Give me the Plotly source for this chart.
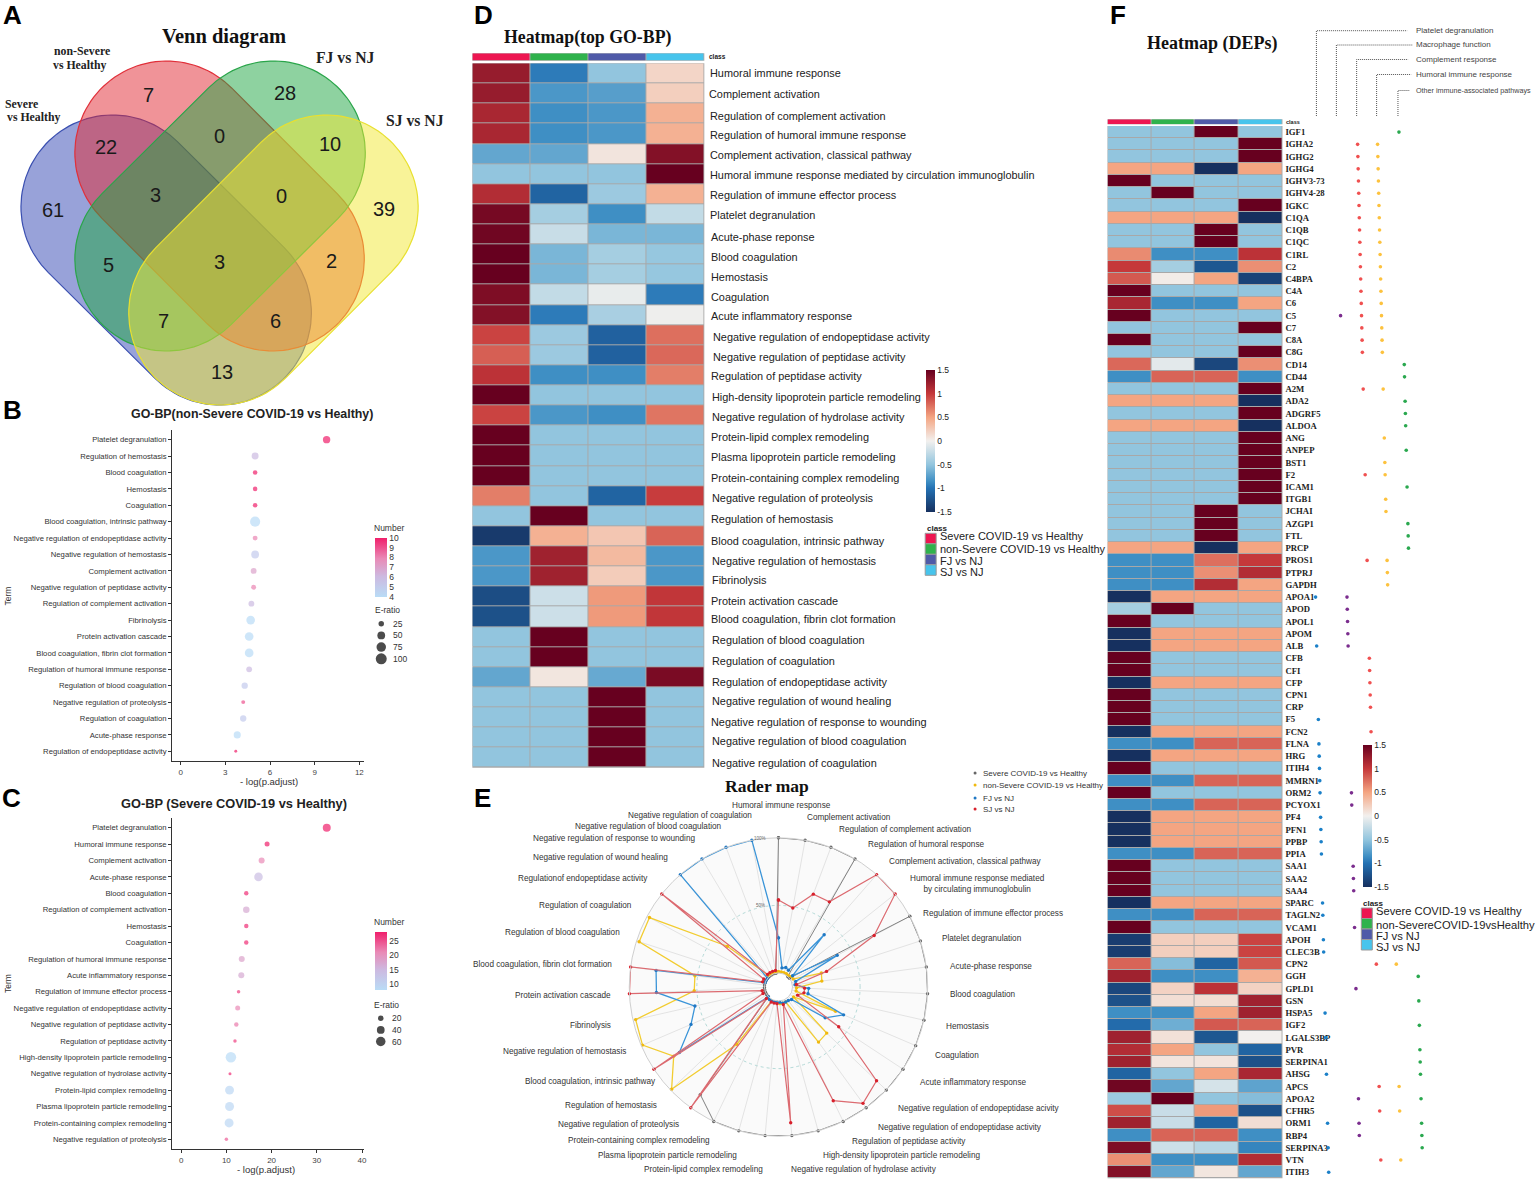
import numpy as np
import plotly.graph_objects as go

W, H = 1536, 1179
SANS = "Liberation Sans"
SERIF = "Liberation Serif"

# ---------- data ----------
venn_counts = [7, 28, 22, 0, 10, 3, 0, 61, 39, 5, 3, 2, 7, 6, 13]

b_terms = ["Platelet degranulation", "Regulation of hemostasis", "Blood coagulation", "Hemostasis", "Coagulation",
           "Blood coagulation, intrinsic pathway", "Negative regulation of endopeptidase activity",
           "Negative regulation of hemostasis", "Complement activation", "Negative regulation of peptidase activity",
           "Regulation of complement activation", "Fibrinolysis", "Protein activation cascade",
           "Blood coagulation, fibrin clot formation", "Regulation of humoral immune response",
           "Regulation of blood coagulation", "Negative regulation of proteolysis", "Regulation of coagulation",
           "Acute-phase response", "Regulation of endopeptidase activity"]
b_x = [9.8, 5.0, 5.0, 5.0, 5.0, 5.0, 5.0, 5.0, 4.9, 4.9, 4.75, 4.7, 4.6, 4.6, 4.6, 4.3, 4.2, 4.2, 3.8, 3.7]
b_num = [10, 6, 10, 10, 10, 4, 8, 5, 7, 8, 6, 4, 4, 4, 6, 5, 9, 5, 4, 10]
b_ratio = [45, 40, 17, 17, 17, 85, 20, 50, 28, 20, 28, 62, 62, 62, 28, 33, 13, 33, 42, 7]
b_ratio_keys = [25, 50, 75, 100]

c_terms = ["Platelet degranulation", "Humoral immune response", "Complement activation", "Acute-phase response",
           "Blood coagulation", "Regulation of complement activation", "Hemostasis", "Coagulation",
           "Regulation of humoral immune response", "Acute inflammatory response",
           "Regulation of immune effector process", "Negative regulation of endopeptidase activity",
           "Negative regulation of peptidase activity", "Regulation of peptidase activity",
           "High-density lipoprotein particle remodeling", "Negative regulation of hydrolase activity",
           "Protein-lipid complex remodeling", "Plasma lipoprotein particle remodeling",
           "Protein-containing complex remodeling", "Negative regulation of proteolysis"]
c_x = [32.2, 19, 17.8, 17.1, 14.4, 14.4, 14.4, 14.4, 13.4, 13.3, 12.7, 12.5, 12.2, 11.9, 11, 10.8, 10.7, 10.7, 10.6, 10]
c_num = [28, 28, 21, 14, 27, 17, 27, 27, 18, 17, 26, 21, 22, 26, 8, 27, 9, 9, 9, 24]
c_ratio = [42, 16.5, 24, 48, 13, 28, 13, 13, 24, 24, 8, 16.5, 13, 8, 73, 6, 53, 53, 53, 8]
c_ratio_keys = [20, 40, 60]

class_names = ["Severe COVID-19 vs Healthy", "non-Severe COVID-19 vs Healthy", "FJ vs NJ", "SJ vs NJ"]
class_names_f = ["Severe COVID-19 vs Healthy", "non-SevereCOVID-19vsHealthy", "FJ vs NJ", "SJ vs NJ"]
scale_ticks = [-1.5, -1, -0.5, 0, 0.5, 1, 1.5]
scale_text = ["-1.5", "-1", "-0.5", "0", "0.5", "1", "1.5"]

d_terms = ["Humoral immune response", "Complement activation", "Regulation of complement activation",
           "Regulation of humoral immune response", "Complement activation, classical pathway",
           "Humoral immune response mediated by circulation immunoglobulin", "Regulation of immune effector process",
           "Platelet degranulation", "Acute-phase reponse", "Blood coagulation", "Hemostasis", "Coagulation",
           "Acute inflammatory response", "Negative regulation of endopeptidase activity",
           "Negative regulation of peptidase activity", "Regulation of peptidase activity",
           "High-density lipoprotein particle remodeling", "Negative regulation of hydrolase activity",
           "Protein-lipid complex remodeling", "Plasma lipoprotein particle remodeling",
           "Protein-containing complex remodeling", "Negative regulation of proteolysis", "Regulation of hemostasis",
           "Blood coagulation, intrinsic pathway", "Negative regulation of hemostasis", "Fibrinolysis",
           "Protein activation cascade", "Blood coagulation, fibrin clot formation", "Regulation of blood coagulation",
           "Regulation of coagulation", "Regulation of endopeptidase activity", "Negative regulation of wound healing",
           "Negative regulation of response to wounding", "Negative regulation of blood coagulation",
           "Negative regulation of coagulation"]
d_values = [
    [1.25, -0.95, -0.5, 0.18], [1.25, -0.8, -0.75, 0.22], [1.15, -0.85, -0.8, 0.42], [1.15, -0.85, -0.8, 0.42],
    [-0.7, -0.7, 0.08, 1.35], [-0.5, -0.5, -0.5, 1.5], [1.1, -1.1, -0.45, 0.42], [1.42, -0.4, -0.85, -0.25],
    [1.45, -0.22, -0.6, -0.6], [1.5, -0.6, -0.4, -0.48], [1.5, -0.6, -0.4, -0.48], [1.38, -0.25, -0.05, -0.95],
    [1.35, -0.95, -0.38, -0.02], [0.95, -0.45, -1.12, 0.75], [0.82, -0.45, -1.12, 0.78], [1.05, -0.85, -0.85, 0.68],
    [1.5, -0.5, -0.5, -0.5], [0.95, -0.8, -0.85, 0.72], [1.5, -0.5, -0.5, -0.5], [1.5, -0.5, -0.5, -0.5],
    [1.5, -0.5, -0.5, -0.5], [0.68, -0.5, -1.1, 0.98], [-0.5, 1.5, -0.5, -0.5], [-1.42, 0.42, 0.28, 0.8],
    [-0.8, 1.2, 0.36, -0.8], [-0.8, 1.2, 0.24, -0.8], [-1.28, -0.2, 0.55, 1.02], [-1.25, -0.2, 0.55, 1.02],
    [-0.5, 1.5, -0.5, -0.5], [-0.5, 1.5, -0.5, -0.5], [-0.7, 0.07, -0.68, 1.4], [-0.5, -0.5, 1.5, -0.5],
    [-0.5, -0.5, 1.5, -0.5], [-0.5, -0.5, 1.5, -0.5], [-0.5, -0.5, 1.5, -0.5]]

radar_labels = ["Humoral immune response", "Complement activation", "Regulation of complement activation",
                "Regulation of humoral response", "Complement activation, classical pathway",
                "Humoral immune response mediated<br>by circulating immunoglobulin",
                "Regulation of immune effector process", "Platelet degranulation", "Acute-phase response",
                "Blood coagulation", "Hemostasis", "Coagulation", "Acute inflammatory response",
                "Negative regulation of endopeptidase acivity", "Negative regulation of endopeptidase activity",
                "Regulation of peptidase activity", "High-density lipoprotein particle remodeling",
                "Negative regulation of hydrolase activity", "Protein-lipid complex remodeling",
                "Plasma lipoprotein particle remodeling", "Protein-containing complex remodeling",
                "Negative regulation of proteolysis", "Regulation of hemostasis", "Blood coagulation, intrinsic pathway",
                "Negative regulation of hemostasis", "Fibrinolysis", "Protein activation cascade",
                "Blood coagulation, fibrin clot formation", "Regulation of blood coagulation",
                "Regulation of coagulation", "Regulationof endopeptidase activity", "Negative regulation of wound healing",
                "Negative regulation of response to wounding", "Negative regulation of blood coagulation",
                "Negative regulation of coagulation"]
radar_severe = [100, 100, 100, 100, 0, 0, 100, 100, 100, 100, 100, 100, 100, 100, 100, 100, 100, 100, 100, 100, 100,
                88, 0, 0, 0, 0, 0, 0, 0, 0, 0, 0, 0, 0, 0]
radar_nonsevere = [1, 1, 1, 1, 1, 2, 2, 23, 22, 3, 3, 35.5, 3, 39, 40, 2, 2, 2, 1, 1, 1, 42, 99, 82.5, 99, 98, 52, 52,
                   98, 98, 38, 1, 1, 1, 1]
radar_fj = [26, 4, 5, 4, 41, 3, 39, 3, 2, 12, 12, 42, 31, 3, 2, 2, 2, 1, 1, 1, 1, 1, 0, 77.5, 60, 53, 80, 81, 0, 0, 0,
            100, 100, 100, 100]
radar_sj = [54, 49, 63, 63, 100, 100, 70, 27, 3, 9, 9, 5, 43, 90, 96, 83, 3, 90.5, 2, 2, 2, 100, 2, 100, 2, 2, 100, 100,
            2, 2, 100, 2, 2, 2, 2]
radar_legend = ["Severe COVID-19 vs Healthy", "non-Severe COVID-19 vs Healthy", "FJ vs NJ", "SJ vs NJ"]

L3 = [-0.5, -0.5, -0.5, 1.5]   # high in SJ
L2 = [-0.5, -0.5, 1.5, -0.5]   # high in FJ
L1 = [-0.5, 1.5, -0.5, -0.5]   # high in non-severe
L0 = [1.5, -0.5, -0.5, -0.5]   # high in severe
N0 = [-1.5, 0.5, 0.5, 0.5]     # low in severe
N2 = [0.5, 0.5, -1.5, 0.5]     # low in FJ
N3 = [0.5, 0.5, 0.5, -1.5]     # low in SJ
UP = [-0.85, -0.85, 0.8, 0.8]
f_rows = [
    ("IGF1", L2), ("IGHA2", L3), ("IGHG2", L3), ("IGHG4", N2), ("IGHV3-73", L0), ("IGHV4-28", L1), ("IGKC", L3),
    ("C1QA", N3), ("C1QB", L2), ("C1QC", L2), ("C1RL", [0.62, -0.85, -0.85, 1.05]), ("C2", [1.0, -0.4, -1.2, 0.6]),
    ("C4BPA", [0.85, 0.03, 0.5, -1.35]), ("C4A", L0), ("C6", [1.15, -0.85, -0.85, 0.5]), ("C5", L0), ("C7", L3),
    ("C8A", L0), ("C8G", L3), ("CD14", [0.78, -0.08, -1.32, 0.6]), ("CD44", [-0.85, 0.8, 0.8, -0.85]), ("A2M", L3),
    ("ADA2", N3), ("ADGRF5", L3), ("ALDOA", N3), ("ANG", L3), ("ANPEP", L3), ("BST1", L3), ("F2", L3), ("ICAM1", L3),
    ("ITGB1", L3), ("JCHAI", L2), ("AZGP1", L2), ("FTL", L2), ("PRCP", N2), ("PROS1", [-0.85, -0.85, 0.75, 1.0]),
    ("PTPRJ", [-0.85, -0.85, 0.6, 1.1]), ("GAPDH", [-0.85, -0.85, 1.1, 0.5]), ("APOA1", N0),
    ("APOD", [-0.4, 1.5, -0.5, -0.5]), ("APOL1", L0), ("APOM", N0), ("ALB", N0), ("CFB", L0), ("CFI", L0), ("CFP", N0),
    ("CPN1", L0), ("CRP", L0), ("F5", L0), ("FCN2", N0), ("FLNA", UP), ("HRG", N0), ("ITIH4", L0), ("MMRN1", UP),
    ("ORM2", L0), ("PCYOX1", UP), ("PF4", N0), ("PFN1", N0), ("PPBP", N0), ("PPIA", UP), ("SAA1", L0), ("SAA2", L0),
    ("SAA4", L0), ("SPARC", N0), ("TAGLN2", UP), ("VCAM1", L0), ("APOH", [-1.4, 0.22, 0.22, 0.95]),
    ("CLEC3B", [-1.4, 0.22, 0.22, 0.95]), ("CPN2", [0.8, -0.55, -1.1, 0.85]), ("GGH", [1.2, -0.85, -0.85, 0.42]),
    ("GPLD1", [-1.32, 0.2, 1.05, 0.2]), ("GSN", [-1.25, 0.12, 0.12, 1.2]), ("HSPA5", [-0.85, -0.85, 0.5, 1.2]),
    ("IGF2", [-1.05, -0.65, 0.85, 0.8]), ("LGALS3BP", [1.2, 0.1, -1.2, 0.0]), ("PVR", [1.1, 0.5, -0.5, -1.1]),
    ("SERPINA1", [1.2, 0.08, 0.08, -1.25]), ("AHSG", [-1.1, -0.5, 0.5, 1.15]), ("APCS", [1.45, -0.7, -0.15, -0.72]),
    ("APOA2", [-0.45, 1.5, -0.5, -0.55]), ("CFHR5", [0.9, -0.22, 0.55, -1.25]), ("ORM1", [1.2, -0.22, -1.1, 0.12]),
    ("RBP4", [-0.85, 0.8, 0.8, -0.85]), ("SERPINA3", [1.38, -0.2, -0.3, -0.9]), ("VTN", [0.6, -0.85, -0.85, 1.1]),
    ("ITIH3", [1.35, -0.7, 0.07, -0.7])]
f_genes = [r[0] for r in f_rows]
f_values = [r[1] for r in f_rows]

pathway_names = ["Platelet degranulation", "Macrophage function", "Complement response", "Humoral immune response",
                 "Other immune-associated pathways"]
pw_platelet = ["APOA1", "ALB", "F5", "FLNA", "HRG", "ITIH4", "MMRN1", "ORM2", "PF4", "PFN1", "PPBP", "PPIA", "SPARC",
               "TAGLN2", "APOH", "CLEC3B", "HSPA5", "LGALS3BP", "AHSG", "ORM1", "SERPINA3", "ITIH3"]
pw_macro = ["C5", "APOA1", "APOD", "APOL1", "APOM", "ALB", "ORM2", "PCYOX1", "SAA1", "SAA2", "SAA4", "VCAM1", "GPLD1",
            "APOA2", "ORM1", "RBP4"]
pw_comp = ["IGHA2", "IGHG2", "IGHG4", "IGHV3-73", "IGHV4-28", "IGKC", "C1QA", "C1QB", "C1QC", "C1RL", "C2", "C4BPA",
           "C4A", "C6", "C5", "C7", "C8A", "C8G", "A2M", "F2", "PROS1", "CFB", "CFI", "CFP", "CPN1", "CRP", "FCN2",
           "CPN2", "APCS", "CFHR5", "VTN"]
pw_humoral = ["IGHA2", "IGHG2", "IGHG4", "IGHV3-73", "IGHV4-28", "IGKC", "C1QA", "C1QB", "C1QC", "C1RL", "C2", "C4BPA",
              "C4A", "C6", "C5", "C7", "C8A", "C8G", "A2M", "ANG", "BST1", "F2", "ITGB1", "JCHAI", "PROS1", "PTPRJ",
              "GAPDH", "CPN2", "APCS", "CFHR5", "VTN"]
pw_other = ["IGF1", "CD14", "CD44", "ADA2", "ADGRF5", "ALDOA", "ANPEP", "ICAM1", "AZGP1", "FTL", "PRCP", "GGH", "GSN",
            "IGF2", "PVR", "SERPINA1", "AHSG", "APOA2", "ORM1", "RBP4", "SERPINA3"]

# ---------- styles ----------
NUM_SCALE = [[0, "#b9dcf6"], [0.35, "#cdb9e0"], [0.65, "#e98ab6"], [1, "#f01f6b"]]
HEAT_SCALE = [[0, "#16305f"], [1 / 6, "#2471b3"], [0.2167, "#3f8fc4"], [1 / 3, "#92c5de"], [0.5, "#f2f0ee"],
              [2 / 3, "#f4a582"], [5 / 6, "#c5383a"], [1, "#67001f"]]
CLASS_COLORS = ["#ed1651", "#2fb24c", "#4f5aa8", "#47c4ec"]
CLASS_SCALE = [[0, CLASS_COLORS[0]], [0.25, CLASS_COLORS[0]], [0.25, CLASS_COLORS[1]], [0.5, CLASS_COLORS[1]],
               [0.5, CLASS_COLORS[2]], [0.75, CLASS_COLORS[2]], [0.75, CLASS_COLORS[3]], [1, CLASS_COLORS[3]]]
GRID_GREY = "#a8a8a8"


def px(x):
    return x / W


def py(y):
    return 1 - y / H


def xdom(a, b):
    return [px(a), px(b)]


def ydom(top, bottom):
    return [py(bottom), py(top)]


annotations = []
shapes = []


def text(x, y, s, size=9, color="#222", bold=False, font=SANS, anchor="center", angle=0, vanchor="middle"):
    annotations.append(dict(x=px(x), y=py(y), xref="paper", yref="paper", text=f"<b>{s}</b>" if bold else s,
                            showarrow=False, xanchor=anchor, yanchor=vanchor, textangle=angle,
                            font=dict(family=font, size=size, color=color)))


def rect(x0, y0, x1, y1, fill, line=None, layer="below"):
    shapes.append(dict(type="rect", xref="paper", yref="paper", x0=px(x0), x1=px(x1), y0=py(y0), y1=py(y1),
                       fillcolor=fill, line=dict(width=1 if line else 0, color=line or fill), layer=layer))


fig = go.Figure()
layout_axes = {}

# canvas in page pixels, for the Venn outlines, size keys and brackets
layout_axes["xaxis"] = dict(domain=[0, 1], range=[0, W], visible=False, fixedrange=True)
layout_axes["yaxis"] = dict(domain=[0, 1], range=[H, 0], visible=False, fixedrange=True)

# ---------- A: Venn ----------
venn_sets = [((113, 207), (220, 313), "rgba(50,70,180,0.5)", "#3a4fb0"),
             ((167, 153), (273, 259), "rgba(226,40,50,0.5)", "#e0303a"),
             ((274, 153), (167, 259), "rgba(30,165,65,0.5)", "#2aa54a"),
             ((327, 207), (221, 313), "rgba(242,232,50,0.5)", "#e8e030")]
VR = 92
for p0, p1, fill, edge in venn_sets:
    a = np.arctan2(p1[1] - p0[1], p1[0] - p0[0])
    t0 = np.linspace(a + np.pi / 2, a + 3 * np.pi / 2, 60)
    t1 = np.linspace(a - np.pi / 2, a + np.pi / 2, 60)
    xs = np.r_[p0[0] + VR * np.cos(t0), p1[0] + VR * np.cos(t1), p0[0] + VR * np.cos(t0[0])]
    ys = np.r_[p0[1] + VR * np.sin(t0), p1[1] + VR * np.sin(t1), p0[1] + VR * np.sin(t0[0])]
    fig.add_trace(go.Scatter(x=xs, y=ys, mode="lines", fill="toself", fillcolor=fill,
                             line=dict(color=edge, width=1.2), hoverinfo="skip", showlegend=False))

venn_pos = [(149, 95), (286, 93), (106, 147), (220, 136), (331, 144), (156, 195), (282, 196), (53, 210), (385, 209),
            (109, 265), (220, 262), (332, 261), (164, 321), (276, 321), (222, 372)]
for (x, y), c in zip(venn_pos, venn_counts):
    text(x, y, str(c), size=20, color="#1a1a1a")
text(224, 36, "Venn diagram", 20.5, "#111", True, SERIF)
text(82, 51, "non-Severe", 11.8, "#222", True, SERIF)
text(80, 65, "vs Healthy", 11.8, "#222", True, SERIF)
text(22, 104, "Severe", 11.8, "#222", True, SERIF)
text(34, 117, "vs Healthy", 11.8, "#222", True, SERIF)
text(346, 57, "FJ vs NJ", 15.7, "#222", True, SERIF)
text(416, 121, "SJ vs NJ", 15.7, "#222", True, SERIF)

for letter, x, y in [("A", 1, 15), ("B", 1, 410), ("C", 0, 798), ("D", 473, 15), ("E", 473, 798), ("F", 1110, 15)]:
    text(x, y, letter, 26, "#000", True, SANS, anchor="left")


# ---------- B, C: dot plots ----------
def dotplot(idx, terms, xs, nums, ratios, top, bottom, xrange, xticks, cmin, cmax, ctick, k, bar_top, bar_bottom,
            keys, key_y0, key_dy, key_x):
    sref = 2 / k ** 2
    fig.add_trace(go.Scatter(
        x=xs, y=terms, mode="markers", xaxis=f"x{idx}", yaxis=f"y{idx}", showlegend=False,
        marker=dict(color=nums, cmin=cmin, cmax=cmax, colorscale=NUM_SCALE, size=ratios, sizemode="area", sizeref=sref,
                    line=dict(width=0), showscale=True,
                    colorbar=dict(x=px(375.7), xanchor="left", y=py(bar_top), yanchor="top", xpad=0, ypad=0,
                                  thicknessmode="pixels", thickness=11.6, lenmode="pixels", len=bar_bottom - bar_top,
                                  outlinewidth=0, ticks="", tickvals=ctick,
                                  tickfont=dict(family=SANS, size=8.5, color="#333")))))
    layout_axes[f"xaxis{idx}"] = dict(domain=xdom(172.5, 365), range=xrange, tickvals=xticks, anchor=f"y{idx}",
                                      showline=True, linecolor="#333", linewidth=1, ticks="outside", ticklen=3,
                                      tickcolor="#333", showgrid=False, zeroline=False, fixedrange=True,
                                      tickfont=dict(family=SANS, size=8, color="#444"))
    layout_axes[f"yaxis{idx}"] = dict(domain=ydom(top, bottom), type="category", categoryorder="array",
                                      categoryarray=terms, range=[19.59, -0.59], anchor=f"x{idx}", showline=True,
                                      linecolor="#333", linewidth=1, ticks="outside", ticklen=3, tickcolor="#333",
                                      showgrid=False, zeroline=False, fixedrange=True,
                                      tickfont=dict(family=SANS, size=7.7, color="#333"))
    fig.add_trace(go.Scatter(
        x=[key_x] * len(keys), y=[key_y0 + i * key_dy for i in range(len(keys))], mode="markers", showlegend=False,
        marker=dict(color="#000", size=keys, sizemode="area", sizeref=sref, line=dict(width=0)), hoverinfo="skip"))
    for i, kv in enumerate(keys):
        text(key_x + 9.5, key_y0 + i * key_dy, str(kv), 8.5, "#333", anchor="left")


dotplot(2, b_terms, b_x, b_num, b_ratio, 430, 761, [-0.57, 12.33], [0, 3, 6, 9, 12], 4, 10, [4, 5, 6, 7, 8, 9, 10],
        1.1, 537.7, 596.7, b_ratio_keys, 623.7, 11.7, 382)
dotplot(3, c_terms, c_x, c_num, c_ratio, 818, 1149, [-1.99, 40.5], [0, 10, 20, 30, 40], 8, 28, [10, 15, 20, 25],
        1.23, 932.3, 990, c_ratio_keys, 1018.3, 11.6, 381.5)

text(252, 414, "GO-BP(non-Severe COVID-19 vs Healthy)", 12.4, "#222", True)
text(234.5, 803.5, "GO-BP (Severe COVID-19 vs Healthy)", 12.8, "#222", True)
text(270, 781.5, "- log(p.adjust)", 9.5, "#333")
text(267, 1169, "- log(p.adjust)", 9.5, "#333")
text(8, 595.5, "Term", 8.5, "#333", angle=-90)
text(8, 983, "Term", 8.5, "#333", angle=-90)
text(390, 528.5, "Number", 8.5, "#333")
text(388, 609.5, "E-ratio", 8.5, "#333")
text(390, 921.5, "Number", 8.5, "#333")
text(387, 1004.5, "E-ratio", 8.5, "#333")


# ---------- D, F: heatmaps ----------
def heatmap(cls, main, rows, values, x0, x1, bar_top, bar_bottom, top, bottom, cb_x, cb_top, cb_bottom, font, fsize,
            show_labels):
    fig.add_trace(go.Heatmap(z=[[0, 1, 2, 3]], xaxis=f"x{cls}", yaxis=f"y{cls}", colorscale=CLASS_SCALE, zmin=-0.5,
                             zmax=3.5, showscale=False, xgap=1, hoverinfo="skip"))
    layout_axes[f"xaxis{cls}"] = dict(domain=xdom(x0, x1), visible=False, anchor=f"y{cls}", fixedrange=True)
    layout_axes[f"yaxis{cls}"] = dict(domain=ydom(bar_top, bar_bottom), visible=False, anchor=f"x{cls}",
                                      fixedrange=True)
    rect(x0, bar_top, x1, bar_bottom, GRID_GREY)
    rect(x0, top, x1, bottom, GRID_GREY)
    fig.add_trace(go.Heatmap(
        z=values, y=rows, xaxis=f"x{main}", yaxis=f"y{main}", colorscale=HEAT_SCALE, zmin=-1.5, zmax=1.5, xgap=1,
        ygap=1, colorbar=dict(x=px(cb_x), xanchor="left", y=py(cb_top), yanchor="top", xpad=0, ypad=0,
                              thicknessmode="pixels", thickness=9.3, lenmode="pixels", len=cb_bottom - cb_top,
                              outlinewidth=0, ticks="", tickvals=scale_ticks, ticktext=scale_text,
                              tickfont=dict(family=SANS, size=8.5, color="#222"))))
    layout_axes[f"xaxis{main}"] = dict(domain=xdom(x0, x1), visible=False, anchor=f"y{main}", fixedrange=True)
    layout_axes[f"yaxis{main}"] = dict(domain=ydom(top, bottom), type="category", categoryorder="array",
                                       categoryarray=rows, range=[len(rows) - 0.5, -0.5], side="right",
                                       anchor=f"x{main}", ticks="", showgrid=False, zeroline=False, showline=False,
                                       fixedrange=True, tickmode="array", tickvals=rows, ticktext=rows,
                                       showticklabels=show_labels, ticklabelstandoff=2,
                                       tickfont=dict(family=font, size=fsize, color="#222"))


heatmap(4, 5, d_terms, d_values, 473.3, 705.7, 53.3, 60.7, 63.3, 767.7, 928, 370, 512, SANS, 10.9, False)
heatmap(6, 7, [f"<b>{g}</b>" for g in f_genes], f_values, 1109.7, 1285, 119.3, 124.3, 126, 1178.3, 1365.7, 745, 886.7,
        SERIF, 8.7, True)
d_label_x = [709, 708, 709, 709, 709, 709, 709, 709, 710, 710, 710, 710, 710, 712, 712, 710, 711, 711, 710, 710, 710,
             711, 710, 710, 711, 711, 710, 710, 711, 711, 711, 711, 710, 711, 711]
d_label_y = [73, 94, 116, 135, 155, 175, 195, 215, 237, 257, 277, 297, 316, 337, 357, 376, 397, 417, 437, 457, 478, 498,
             519, 541, 561, 580, 601, 619, 640, 661, 682, 701, 722, 741, 763]
for lx, ly, term in zip(d_label_x, d_label_y, d_terms):
    text(lx, ly, term, 10.9, "#222", anchor="left")
text(589, 38, "Heatmap(top GO-BP)", 17.8, "#111", True, SERIF)
text(1214, 43, "Heatmap (DEPs)", 18, "#111", True, SERIF)
text(708, 56.5, "class", 6.5, "#222", True, anchor="left")
text(1287, 121.8, "class", 5.5, "#222", True, anchor="left")


def class_legend(x, top, names, text_x, text_ys, size, title_y):
    text(x, title_y, "class", 8, "#222", True, anchor="left")
    h = 10.5
    for i, (n, c) in enumerate(zip(names, CLASS_COLORS)):
        rect(x, top + i * h, x + 11, top + (i + 1) * h, c, "#9a9a9a")
        text(text_x, text_ys[i], n, size, "#222", anchor="left")


class_legend(927, 533.3, class_names, 940, [536, 549, 561, 572], 11, 528)
class_legend(1364, 908, class_names_f, 1377, [911, 925, 936, 947], 11.2, 903)

# ---------- F: pathway membership dots ----------
layout_axes["xaxis8"] = dict(domain=xdom(1290, 1536), range=[1290, 1536], visible=False, anchor="y7", fixedrange=True)
pw_sets = [(pw_platelet, 1307.5, "#1b80c8"), (pw_macro, 1339, "#7b2d8e"), (pw_comp, 1360, "#f05050"),
           (pw_humoral, 1380, "#fdc23e"), (pw_other, 1401.7, "#2aa84f")]
for genes, base, col in pw_sets:
    fig.add_trace(go.Scatter(x=[base + 0.28 * f_genes.index(g) for g in genes], y=[f"<b>{g}</b>" for g in genes],
                             mode="markers", xaxis="x8", yaxis="y7", showlegend=False,
                             marker=dict(size=3.6, color=col, line=dict(width=0)), hoverinfo="skip"))

# bracket tree
bracket_x = [1319, 1339, 1359.3, 1379.3, 1400.7]
bracket_y = [30.7, 45, 59.5, 74.5, 90.5]
bracket_end = [1410, 1415, 1411, 1414, 1412]
bracket_font = [8, 8, 8, 8, 7.2]
for i, name in enumerate(pathway_names):
    fig.add_trace(go.Scatter(x=[bracket_x[i], bracket_x[i], bracket_end[i]], y=[116, bracket_y[i], bracket_y[i]],
                             mode="lines", line=dict(color="#555", width=1, dash="1px,1px"), showlegend=False,
                             hoverinfo="skip"))
    text(1416.7, bracket_y[i], name, bracket_font[i], "#444", anchor="left")

# ---------- E: radar ----------
theta = (np.arange(len(radar_labels)) * 360 / len(radar_labels)).tolist()
radar_series = [(radar_severe, "#808080", "#666666", 1.0), (radar_nonsevere, "#f2cc30", "#f0b90f", 1.3),
                (radar_fj, "#3a94d8", "#1f78c4", 1.3), (radar_sj, "#dc6a70", "#d8202c", 1.2)]
for vals, lc, mc, lw in radar_series:
    fig.add_trace(go.Scatterpolar(r=vals + vals[:1], theta=theta + theta[:1], mode="lines+markers", showlegend=False,
                                  line=dict(color=lc, width=lw), marker=dict(size=3.4, color=mc), hoverinfo="skip"))
radar_label_pos = [(783, 805.5), (851, 817.5), (907, 829), (928, 844), (967, 861), (979, 883.5), (995, 913), (983.5, 938),
                   (993, 966), (985, 994), (969.4, 1026), (959, 1055), (975.4, 1082), (981, 1108.7), (962, 1127),
                   (911, 1141), (903, 1155), (866, 1169.5), (704.6, 1169.5), (669, 1155), (640, 1140.7), (619.5, 1124.7),
                   (612, 1105), (592, 1081), (565.6, 1051), (592, 1025), (564.4, 995), (543.5, 964), (564, 932.7),
                   (587, 905), (584.5, 879), (601.4, 857), (615, 838), (650, 826), (691, 815.7)]
for (x, y), lab in zip(radar_label_pos, radar_labels):
    text(x, y, lab, 8.2, "#333")
text(769, 786, "Rader map", 17.5, "#111", True, SERIF)
text(761, 838, "100%", 4.5, "#666")
text(762, 905, "50%", 4.5, "#666")
legend_colors = ["#666666", "#f0b90f", "#1f78c4", "#d8202c"]
legend_y = [773, 785, 798, 809]
fig.add_trace(go.Scatter(x=[977] * 4, y=legend_y, mode="markers", showlegend=False, hoverinfo="skip",
                         marker=dict(size=3, color=legend_colors)))
for n, y in zip(radar_legend, legend_y):
    text(983, y, n, 8, "#333", anchor="left")

fig.update_layout(
    width=W, height=H, margin=dict(l=0, r=0, t=0, b=0), paper_bgcolor="white", plot_bgcolor="rgba(0,0,0,0)",
    showlegend=False, hovermode=False, annotations=annotations, shapes=shapes,
    polar=dict(domain=dict(x=xdom(630.5, 929.5), y=ydom(837.5, 1136.5)), hole=0.094, bgcolor="#fafafa",
               radialaxis=dict(range=[0, 100], tickvals=[50], showticklabels=False, ticks="", showline=False,
                               gridcolor="#b5dad8", griddash="dot", gridwidth=1.1),
               angularaxis=dict(direction="clockwise", rotation=90, thetaunit="degrees", tickvals=theta,
                                showticklabels=False, ticks="", gridcolor="#e3e3e3", linecolor="#cfcfcf", linewidth=1)),
    **layout_axes)

fig.write_html("out.html", config={"displayModeBar": False},
               post_script="document.body.style.margin='0';document.body.style.overflow='hidden';")
